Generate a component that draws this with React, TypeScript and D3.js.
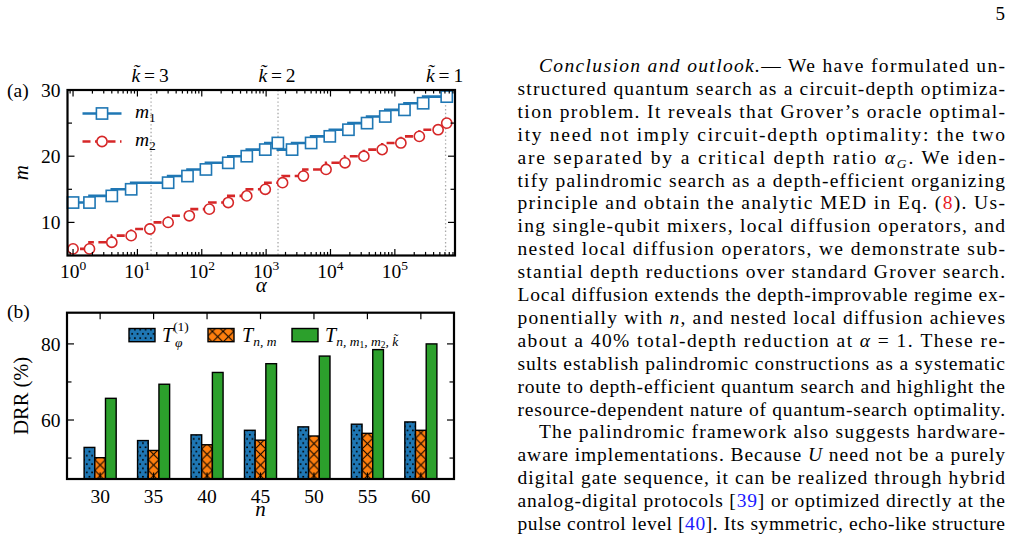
import React from 'react';
import * as d3 from 'd3';

const W = 1013;
const H = 534;
const FONT = "'Liberation Serif', 'Times New Roman', serif";

// panel (a): optimal m vs alpha (log axis)
const m1Alpha = [1, 1.8, 4, 8, 30, 60, 116, 258, 500, 970, 1520, 2530, 5000, 9750, 19000, 37000, 71000, 141000, 275000, 640000];
const m1Val = [13, 13, 14, 15, 16, 17, 18, 19, 20, 21, 22, 21, 22, 23, 24, 25, 26, 27, 28, 29];
const m2Alpha = [1, 1.8, 4, 8, 15.6, 30, 64, 131, 258, 500, 970, 1800, 3790, 8530, 16800, 33000, 63500, 124000, 240000, 470000, 640000];
const m2Val = [6, 6, 7, 8, 9, 10, 11, 12, 13, 14, 15, 16, 17, 18, 19, 20, 21, 22, 23, 24, 25];
const kAlpha = [16.3, 1530, 614000];
const kLabels = ['3', '2', '1'];
const alphaDomain = [0.82, 8.6e5];
const mDomain = [5, 30];
const mTicks = [10, 20, 30];
const mMinor = [15, 25];

// panel (b): depth reduction ratio vs n
const nCats = ['30', '35', '40', '45', '50', '55', '60'];
const drrPhi = [52.8, 54.6, 56.1, 57.3, 58.2, 58.9, 59.5];
const drrNm = [50.1, 52.0, 53.5, 54.7, 55.8, 56.5, 57.3];
const drrNested = [65.7, 69.4, 72.5, 74.8, 76.8, 78.5, 80.0];
const drrDomain = [44.5, 88.2];
const drrTicks = [60, 80];
const drrMinor = [50, 70];

const C_BLUE = '#1f77b4';
const C_RED = '#d62728';
const C_ORANGE = '#ff7f0e';
const C_GREEN = '#2ca02c';

type Seg = { t: string; i?: boolean; c?: string; sub?: boolean };
const bodyLines: Seg[][] = [
  [{ t: 'Conclusion and outlook.', i: true }, { t: '— We have formulated un-' }],
  [{ t: 'structured quantum search as a circuit-depth optimiza-' }],
  [{ t: 'tion problem. It reveals that Grover’s oracle optimal-' }],
  [{ t: 'ity need not imply circuit-depth optimality: the two' }],
  [{ t: 'are separated by a critical depth ratio ' }, { t: 'α', i: true }, { t: 'G', i: true, sub: true }, { t: '. We iden-' }],
  [{ t: 'tify palindromic search as a depth-efficient organizing' }],
  [{ t: 'principle and obtain the analytic MED in Eq. (' }, { t: '8', c: '#e8191f' }, { t: '). Us-' }],
  [{ t: 'ing single-qubit mixers, local diffusion operators, and' }],
  [{ t: 'nested local diffusion operators, we demonstrate sub-' }],
  [{ t: 'stantial depth reductions over standard Grover search.' }],
  [{ t: 'Local diffusion extends the depth-improvable regime ex-' }],
  [{ t: 'ponentially with ' }, { t: 'n', i: true }, { t: ', and nested local diffusion achieves' }],
  [{ t: 'about a 40% total-depth reduction at ' }, { t: 'α', i: true }, { t: ' = 1. These re-' }],
  [{ t: 'sults establish palindromic constructions as a systematic' }],
  [{ t: 'route to depth-efficient quantum search and highlight the' }],
  [{ t: 'resource-dependent nature of quantum-search optimality.' }],
  [{ t: 'The palindromic framework also suggests hardware-' }],
  [{ t: 'aware implementations. Because ' }, { t: 'U', i: true }, { t: ' need not be a purely' }],
  [{ t: 'digital gate sequence, it can be realized through hybrid' }],
  [{ t: 'analog-digital protocols [' }, { t: '39', c: '#1a1aff' }, { t: '] or optimized directly at the' }],
  [{ t: 'pulse control level [' }, { t: '40', c: '#1a1aff' }, { t: ']. Its symmetric, echo-like structure' }],
];
const indentLines = [0, 16];

export default function App() {
  // ---- panel (a) scales
  const xa = d3.scaleLog().domain(alphaDomain).range([67.5, 455]);
  const ya = d3.scaleLinear().domain(mDomain).range([255.5, 90]);
  const [aL, aR] = xa.range();
  const [aB, aT] = ya.range();

  const stepLine = d3
    .line<[number, number]>()
    .x((d) => xa(d[0]))
    .y((d) => ya(d[1]))
    .curve(d3.curveStepBefore);

  const m1Pts: [number, number][] = m1Alpha.map((a, i) => [a, m1Val[i]]);
  const m2Pts: [number, number][] = m2Alpha.map((a, i) => [a, m2Val[i]]);
  const m1Path = stepLine([[alphaDomain[0], m1Val[0]], ...m1Pts]);
  const m2Path = stepLine([[alphaDomain[0], m2Val[0]], ...m2Pts]);

  const logTicks = xa.ticks();
  const isMajor = (v: number) => Math.abs(Math.log10(v) - Math.round(Math.log10(v))) < 1e-9;

  // ---- panel (b) scales
  const xb = d3.scalePoint<string>().domain(nCats).range([67, 454]).padding(0.62);
  const yb = d3.scaleLinear().domain(drrDomain).range([479, 312.7]);
  const bw = xb.step() / 5;
  const [bL, bR] = xb.range();
  const [bB, bT] = yb.range();
  const series = [
    { vals: drrPhi, color: C_BLUE, pat: 'url(#dots)' },
    { vals: drrNm, color: C_ORANGE, pat: 'url(#xhatch)' },
    { vals: drrNested, color: C_GREEN, pat: null },
  ];
  const orangeLeft = (xb(nCats[0]) as number) - bw / 2;

  const tickLbl = { fontFamily: FONT, fontSize: 19.5, fill: '#000' };

  return (
    <svg
      width={W}
      height={H}
      viewBox={`0 0 ${W} ${H}`}
      style={{ position: 'absolute', left: 0, top: 0, display: 'block', background: '#fff' }}
    >
      <defs>
        <pattern id="dots" patternUnits="userSpaceOnUse" width={bw / 2} height={8.4} x={orangeLeft - bw}>
          <circle cx={bw / 4} cy={2} r={0.95} fill="#000" />
          <circle cx={bw / 2} cy={6.2} r={0.95} fill="#000" />
          <circle cx={0} cy={6.2} r={0.95} fill="#000" />
        </pattern>
        <pattern id="xhatch" patternUnits="userSpaceOnUse" width={bw} height={bw} x={orangeLeft} y={0}>
          <line x1={0} y1={0} x2={bw} y2={bw} stroke="#000" strokeWidth={1} />
          <line x1={0} y1={bw} x2={bw} y2={0} stroke="#000" strokeWidth={1} />
        </pattern>
      </defs>

      {/* page number */}
      <text x={1005} y={20} textAnchor="end" style={{ fontFamily: FONT, fontSize: 19 }}>5</text>

      {/* ================= panel (a) ================= */}
      <text x={7} y={97} style={{ fontFamily: FONT, fontSize: 19.5 }}>(a)</text>

      {/* k-tilde guides */}
      {kAlpha.map((a, i) => (
        <g key={'k' + i}>
          <line x1={xa(a)} x2={xa(a)} y1={aT} y2={aB} stroke="#a8a8a8" strokeWidth={1.3} strokeDasharray="1.4,2.4" />
          <text x={xa(a) - 1} y={82} textAnchor="middle" style={{ fontFamily: FONT, fontSize: 19.5 }}>
            <tspan fontStyle="italic">{'k\u0303'}</tspan>
            <tspan>{'\u2009=\u2009' + kLabels[i]}</tspan>
          </text>
        </g>
      ))}

      {/* lines */}
      <path d={m1Path || ''} fill="none" stroke={C_BLUE} strokeWidth={2.6} />
      <path d={m2Path || ''} fill="none" stroke={C_RED} strokeWidth={2.6} strokeDasharray="8,4.5" />
      {m1Pts.map((d, i) => (
        <rect key={'s' + i} x={xa(d[0]) - 5.6} y={ya(d[1]) - 5.6} width={11.2} height={11.2}
          fill="#fff" stroke={C_BLUE} strokeWidth={1.6} />
      ))}
      {m2Pts.map((d, i) => (
        <circle key={'c' + i} cx={xa(d[0])} cy={ya(d[1])} r={5.1} fill="#fff" stroke={C_RED} strokeWidth={1.6} />
      ))}

      {/* legend (a) */}
      <line x1={82.5} x2={121.5} y1={113.5} y2={113.5} stroke={C_BLUE} strokeWidth={2.6} />
      <rect x={102 - 5.6} y={113.5 - 5.6} width={11.2} height={11.2} fill="#fff" stroke={C_BLUE} strokeWidth={1.6} />
      <line x1={82.5} x2={121.5} y1={141.5} y2={141.5} stroke={C_RED} strokeWidth={2.6} strokeDasharray="8,4.5" />
      <circle cx={102} cy={141.5} r={5.1} fill="#fff" stroke={C_RED} strokeWidth={1.6} />
      <text x={135} y={118} style={{ fontFamily: FONT, fontSize: 19.5 }}>
        <tspan fontStyle="italic">m</tspan>
        <tspan fontSize={13.5} dy={4}>1</tspan>
      </text>
      <text x={135} y={146} style={{ fontFamily: FONT, fontSize: 19.5 }}>
        <tspan fontStyle="italic">m</tspan>
        <tspan fontSize={13.5} dy={4}>2</tspan>
      </text>

      {/* ticks (a) */}
      {logTicks.map((v, i) => {
        const len = isMajor(v) ? 6.5 : 3.6;
        const x = xa(v);
        return (
          <g key={'lt' + i} stroke="#000" strokeWidth={1.2}>
            <line x1={x} x2={x} y1={aB} y2={aB - len} />
            <line x1={x} x2={x} y1={aT} y2={aT + len} />
          </g>
        );
      })}
      {[...mTicks, ...mMinor].map((v, i) => {
        const len = mTicks.includes(v) ? 7 : 4.5;
        const y = ya(v);
        return (
          <g key={'mt' + i} stroke="#000" strokeWidth={1.2}>
            <line x1={aL} x2={aL + len} y1={y} y2={y} />
            <line x1={aR} x2={aR - len} y1={y} y2={y} />
          </g>
        );
      })}
      {mTicks.map((v) => (
        <text key={'ml' + v} x={60.5} y={ya(v) + 7} textAnchor="end" style={tickLbl}>{v}</text>
      ))}
      {logTicks.filter(isMajor).map((v) => (
        <text key={'xl' + v} x={xa(v)} y={277.5} textAnchor="middle" style={tickLbl}>
          <tspan>10</tspan>
          <tspan fontSize={13.5} dy={-8}>{Math.round(Math.log10(v))}</tspan>
        </text>
      ))}
      <text x={(aL + aR) / 2} y={292} textAnchor="middle" style={{ fontFamily: FONT, fontSize: 21, fontStyle: 'italic' }}>α</text>
      <text transform={`translate(28,${(aT + aB) / 2}) rotate(-90)`} textAnchor="middle"
        style={{ fontFamily: FONT, fontSize: 21, fontStyle: 'italic' }}>m</text>
      <rect x={aL} y={aT} width={aR - aL} height={aB - aT} fill="none" stroke="#000" strokeWidth={2.2} />

      {/* ================= panel (b) ================= */}
      <text x={7} y={318} style={{ fontFamily: FONT, fontSize: 19.5 }}>(b)</text>

      {series.map((s, si) =>
        nCats.map((c, ci) => {
          const x0 = (xb(c) as number) + (si - 1.5) * bw;
          const y0 = yb(s.vals[ci]);
          return (
            <g key={'b' + si + c}>
              <rect x={x0} y={y0} width={bw} height={bB - y0} fill={s.color} />
              {s.pat && <rect x={x0} y={y0} width={bw} height={bB - y0} fill={s.pat} />}
              <rect x={x0} y={y0} width={bw} height={bB - y0} fill="none" stroke="#000" strokeWidth={1.4} />
            </g>
          );
        })
      )}

      {/* legend (b) */}
      {[
        { x: 129, s: series[0] },
        { x: 208, s: series[1] },
        { x: 292, s: series[2] },
      ].map((l, i) => (
        <g key={'lg' + i}>
          <rect x={l.x} y={328.5} width={26} height={13.2} fill={l.s.color} />
          {l.s.pat && <rect x={l.x} y={328.5} width={26} height={13.2} fill={l.s.pat} />}
          <rect x={l.x} y={328.5} width={26} height={13.2} fill="none" stroke="#000" strokeWidth={1.4} />
        </g>
      ))}
      <text x={162} y={341.5} style={{ fontFamily: FONT, fontSize: 20 }}>
        <tspan fontStyle="italic">T</tspan>
        <tspan fontSize={13.5} dy={-11}>(1)</tspan>
        <tspan fontSize={13.5} fontStyle="italic" x={175} dy={16}>φ</tspan>
      </text>
      <text x={242} y={341.5} style={{ fontFamily: FONT, fontSize: 20 }}>
        <tspan fontStyle="italic">T</tspan>
        <tspan fontSize={13.5} fontStyle="italic" dy={4}>n, m</tspan>
      </text>
      <text x={325} y={341.5} style={{ fontFamily: FONT, fontSize: 20 }}>
        <tspan fontStyle="italic">T</tspan>
        <tspan fontSize={13.5} fontStyle="italic" dy={4}>n, m</tspan>
        <tspan fontSize={9.5} dy={2.5}>1</tspan>
        <tspan fontSize={13.5} fontStyle="italic" dy={-2.5}>, m</tspan>
        <tspan fontSize={9.5} dy={2.5}>2</tspan>
        <tspan fontSize={13.5} fontStyle="italic" dy={-2.5}>{', k\u0303'}</tspan>
      </text>

      {/* ticks (b) */}
      {nCats.map((c) => {
        const x = xb(c) as number;
        return (
          <g key={'nt' + c}>
            <line x1={x} x2={x} y1={bB} y2={bB - 6.5} stroke="#000" strokeWidth={1.2} />
            <line x1={x} x2={x} y1={bT} y2={bT + 6.5} stroke="#000" strokeWidth={1.2} />
            <text x={x} y={503} textAnchor="middle" style={tickLbl}>{c}</text>
          </g>
        );
      })}
      {[...drrTicks, ...drrMinor].map((v) => {
        const y = yb(v);
        const len = drrTicks.includes(v) ? 7 : 4.5;
        return (
          <g key={'dt' + v} stroke="#000" strokeWidth={1.2}>
            <line x1={bL} x2={bL + len} y1={y} y2={y} />
            <line x1={bR} x2={bR - len} y1={y} y2={y} />
          </g>
        );
      })}
      {drrTicks.map((v) => (
        <text key={'dl' + v} x={60.5} y={yb(v) + 7} textAnchor="end" style={tickLbl}>{v}</text>
      ))}
      <text x={(bL + bR) / 2} y={516} textAnchor="middle" style={{ fontFamily: FONT, fontSize: 21, fontStyle: 'italic' }}>n</text>
      <text transform={`translate(28,${(bT + bB) / 2}) rotate(-90)`} textAnchor="middle"
        style={{ fontFamily: FONT, fontSize: 20.5 }}>DRR (%)</text>
      <rect x={bL} y={bT} width={bR - bL} height={bB - bT} fill="none" stroke="#000" strokeWidth={2.2} />

      {/* cut-off caption below the figure */}
      <text x={270} y={551} style={{ fontFamily: FONT, fontSize: 19, fontStyle: 'italic' }}>{'k\u0303'}</text>

      {/* ================= right text column ================= */}
      {bodyLines.map((segs, li) => {
        const x0 = indentLines.includes(li) ? 539 : 517.5;
        const y = 72 + li * 22.9;
        let shift = 0;
        return (
          <text key={'tl' + li} x={x0} y={y} textLength={1005 - x0} lengthAdjust="spacing"
            style={{ fontFamily: FONT, fontSize: 19.5, fill: '#000' }}>
            {segs.map((s, si) => {
              let dy = 0;
              if (s.sub) { dy = 4; shift = 4; } else if (shift) { dy = -shift; shift = 0; }
              return (
                <tspan key={si} dy={dy || undefined} fontStyle={s.i ? 'italic' : undefined}
                  fill={s.c} fontSize={s.sub ? 13.5 : undefined}>{s.t}</tspan>
              );
            })}
          </text>
        );
      })}
    </svg>
  );
}
